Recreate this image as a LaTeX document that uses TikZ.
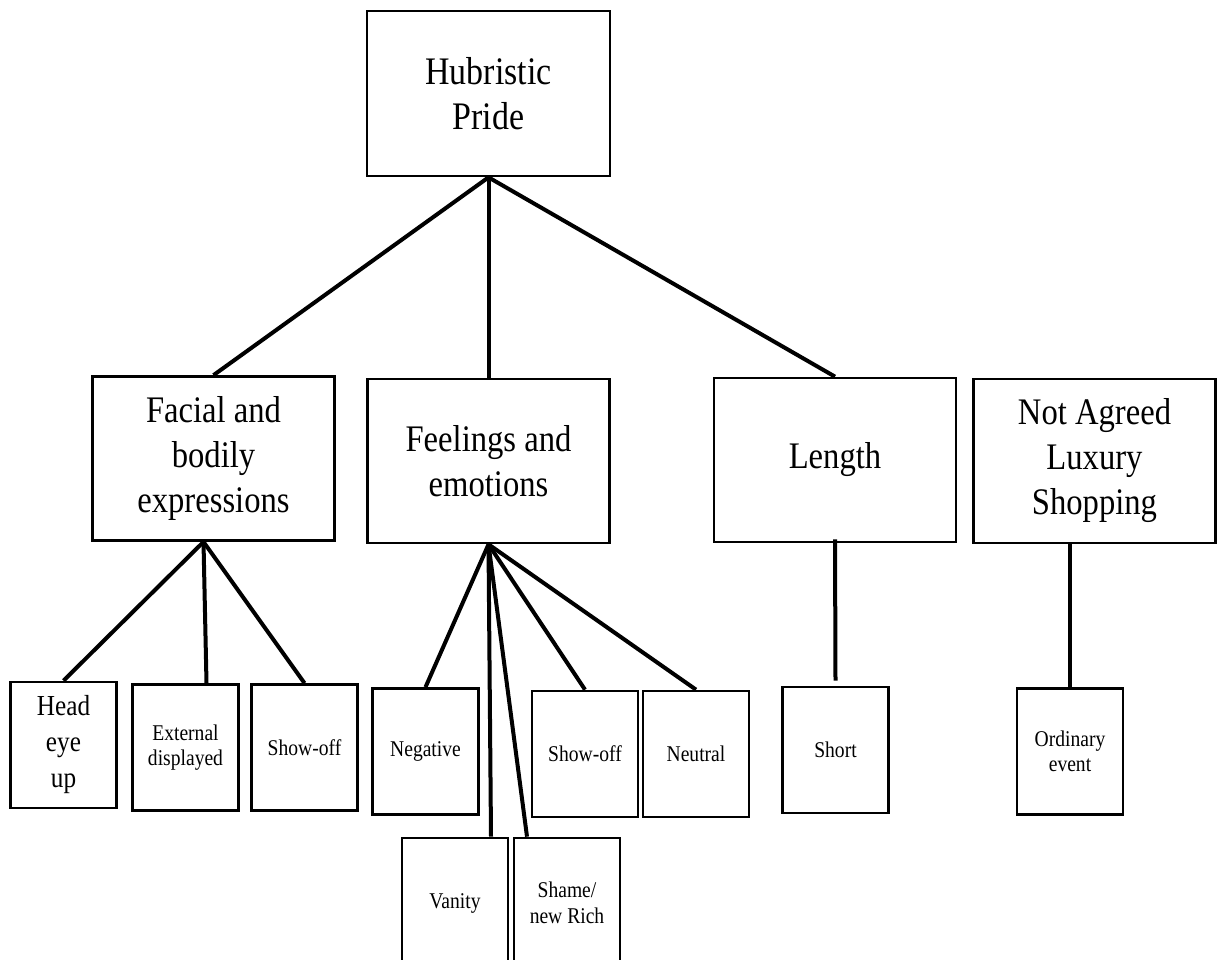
\documentclass[tikz,border=0pt]{standalone}
\usepackage{fontspec}
\setmainfont{Liberation Serif}[FakeStretch=0.87]
\usetikzlibrary{calc}

\begin{document}
\begin{tikzpicture}[x=1pt,y=-1pt,
  topbox/.style={draw,line width=2.7pt,minimum width=243pt,minimum height=165pt,inner sep=0pt,align=center,font=\fontsize{39}{45}\selectfont},
  midbox/.style={draw,line width=2.7pt,minimum width=242pt,minimum height=164pt,inner sep=0pt,align=center,font=\fontsize{37.5}{45}\selectfont},
  leafbox/.style={draw,line width=2.7pt,minimum width=106pt,minimum height=126pt,inner sep=0pt,align=center,font=\fontsize{22.5}{25.5}\selectfont},
  link/.style={line width=4pt}]
\path[use as bounding box] (0,0) rectangle (1225,959);
% top level
\node[topbox] (pride) at (488.5,93.5) {Hubristic\\Pride};
% second level
\node[midbox] (face) at (213.5,458.5) {Facial and\\bodily\\expressions};
\node[midbox] (feel) at (488.5,461) {Feelings and\\emotions};
\node[midbox] (len) at (835,460) {Length};
\node[midbox] (notag) at (1094.5,461) {Not Agreed\\Luxury\\Shopping};
% leaves
\node[leafbox,font=\fontsize{29}{36}\selectfont] (head) at (63.5,745) {Head\\eye\\up};
\node[leafbox] (ext) at (185.5,747.5) {External\\displayed};
\node[leafbox] (show) at (304.5,747.5) {Show-off};
\node[leafbox] (neg) at (425.5,751.5) {Negative};
\node[leafbox,minimum height=130pt] (van) at (455,903) {Vanity};
\node[leafbox,minimum height=130pt] (shame) at (567,903) {Shame/\\new Rich};
\node[leafbox] (showb) at (585,754) {Show-off};
\node[leafbox] (neut) at (696,754) {Neutral};
\node[leafbox] (short) at (835.5,750) {Short};
\node[leafbox] (ord) at (1070,751.5) {Ordinary\\event};
% connectors
\draw[link] (pride.south) -- (face.north);
\draw[link] (pride.south) -- (feel.north);
\draw[link] (pride.south) -- (len.north);
\draw[link] ([xshift=-10pt]face.south) -- (head.north);
\draw[link] ([xshift=-10pt]face.south) -- ([xshift=21pt]ext.north);
\draw[link] ([xshift=-10pt]face.south) -- (show.north);
\draw[link] (feel.south) -- (neg.north);
\draw[link] (feel.south) -- ([xshift=36pt]van.north);
\draw[link] (feel.south) -- ([xshift=-40pt]shame.north);
\draw[link] (feel.south) -- (showb.north);
\draw[link] (feel.south) -- (neut.north);
\draw[link] ([yshift=4pt]len.south) -- ([yshift=5pt]short.north);
\draw[link] (notag.south -| ord.north) -- (ord.north);
\end{tikzpicture}
\end{document}
